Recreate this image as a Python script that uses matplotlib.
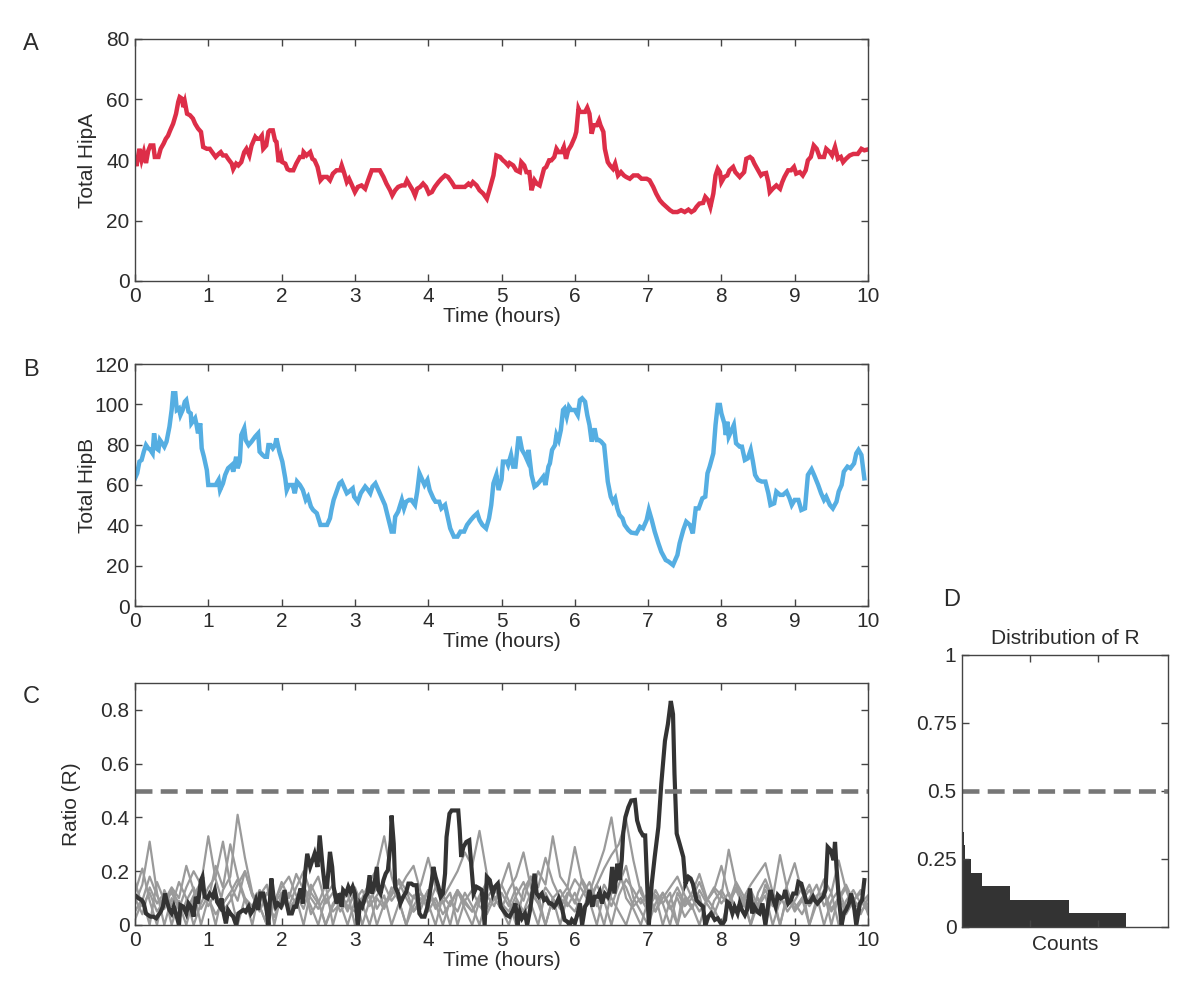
import matplotlib
matplotlib.use("Agg")
import matplotlib.pyplot as plt
import numpy as np

plt.rcParams['font.family'] = ['Liberation Sans', 'DejaVu Sans']

# ---------------- data ----------------
hipA_points = [
    (0.00,40.4),(0.02,38.0),(0.06,43.7),(0.09,40.0),(0.12,42.6),(0.15,39.0),(0.18,43.0),(0.21,44.8),(0.25,44.8),(0.27,41.0),
    (0.32,41.0),(0.35,43.7),(0.39,45.4),(0.42,47.0),(0.45,48.0),(0.48,49.8),(0.52,52.0),(0.56,55.3),(0.59,59.2),(0.61,60.8),
    (0.64,60.3),(0.66,57.5),(0.68,59.2),(0.71,55.3),(0.75,54.8),(0.79,53.7),(0.82,52.0),(0.86,50.4),(0.90,49.3),(0.93,44.3),
    (0.98,43.7),(1.02,43.7),(1.07,42.0),(1.10,41.0),(1.14,42.0),(1.17,42.6),(1.20,41.5),(1.24,41.5),(1.27,40.4),(1.32,38.8),
    (1.34,37.0),(1.38,38.8),(1.41,38.2),(1.45,39.3),(1.49,42.6),(1.52,43.7),(1.56,41.5),(1.59,44.8),(1.64,47.6),(1.66,47.0),
    (1.70,47.0),(1.73,48.0),(1.75,43.7),(1.79,44.8),(1.82,49.3),(1.84,49.8),(1.88,49.8),(1.91,46.5),(1.93,46.0),(1.96,39.3),
    (1.99,41.5),(2.01,39.3),(2.05,38.8),(2.08,37.0),(2.11,36.6),(2.16,36.6),(2.20,38.8),(2.25,41.0),(2.29,41.0),(2.30,42.6),
    (2.34,41.5),(2.39,42.6),(2.42,40.4),(2.45,39.9),(2.49,37.7),(2.53,33.3),(2.57,34.4),(2.62,34.4),(2.66,33.3),(2.70,35.5),
    (2.75,36.6),(2.80,36.6),(2.82,38.2),(2.85,36.0),(2.89,32.7),(2.92,33.8),(2.95,32.2),(3.00,29.4),(3.04,31.1),(3.09,31.6),
    (3.14,30.5),(3.18,33.3),(3.23,36.6),(3.27,36.6),(3.34,36.6),(3.39,34.4),(3.43,32.2),(3.48,30.0),(3.51,28.3),(3.55,30.0),
    (3.59,31.1),(3.64,31.6),(3.68,31.6),(3.71,33.3),(3.75,31.6),(3.79,30.0),(3.82,28.3),(3.85,30.5),(3.89,31.1),(3.93,32.2),
    (3.97,31.1),(4.01,28.9),(4.05,29.4),(4.09,31.1),(4.14,32.7),(4.18,33.8),(4.23,34.9),(4.27,34.4),(4.32,32.7),(4.36,31.1),
    (4.43,31.1),(4.50,31.1),(4.55,32.2),(4.58,31.6),(4.61,32.7),(4.66,31.6),(4.70,30.0),(4.75,28.9),(4.80,27.2),(4.84,30.5),
    (4.89,34.9),(4.93,41.5),(4.98,41.0),(5.02,39.9),(5.05,39.3),(5.09,38.2),(5.11,39.0),(5.16,38.2),(5.20,36.6),(5.25,36.0),
    (5.27,39.3),(5.31,38.2),(5.34,36.0),(5.38,36.0),(5.41,30.0),(5.45,33.3),(5.48,32.2),(5.52,31.6),(5.55,34.4),(5.58,37.1),
    (5.61,37.7),(5.65,39.9),(5.68,39.9),(5.72,41.0),(5.75,43.7),(5.78,42.6),(5.82,42.6),(5.85,44.3),(5.88,40.4),(5.91,43.2),
    (5.95,44.8),(5.98,46.5),(6.00,47.6),(6.02,49.3),(6.05,57.0),(6.07,55.9),(6.10,55.9),(6.14,55.9),(6.17,57.3),(6.20,55.3),
    (6.23,48.7),(6.26,51.5),(6.30,51.5),(6.33,53.1),(6.35,51.5),(6.39,49.3),(6.41,43.7),(6.45,39.3),(6.48,38.2),(6.52,37.1),
    (6.55,38.8),(6.59,34.9),(6.63,36.0),(6.67,34.9),(6.70,34.4),(6.75,33.8),(6.80,34.9),(6.86,34.9),(6.91,33.8),(6.98,33.8),
    (7.02,33.3),(7.07,31.1),(7.11,28.9),(7.16,26.7),(7.20,25.6),(7.25,24.5),(7.30,23.4),(7.34,22.8),(7.40,22.8),(7.45,23.4),
    (7.50,22.8),(7.55,23.6),(7.59,22.8),(7.63,23.4),(7.66,24.5),(7.70,25.6),(7.75,25.8),(7.78,27.8),(7.82,26.7),(7.85,24.5),
    (7.89,28.9),(7.92,34.9),(7.95,37.1),(7.98,36.0),(8.00,32.7),(8.04,34.4),(8.08,34.9),(8.11,36.6),(8.16,37.7),(8.19,36.0),
    (8.25,34.4),(8.31,36.0),(8.34,40.4),(8.39,41.0),(8.42,40.4),(8.45,38.8),(8.50,36.6),(8.54,34.9),(8.57,35.5),(8.61,35.7),
    (8.64,32.7),(8.66,29.4),(8.70,30.5),(8.75,31.6),(8.80,30.5),(8.83,32.7),(8.86,34.4),(8.91,36.6),(8.95,36.6),(8.99,37.7),
    (9.02,35.5),(9.07,36.0),(9.11,34.9),(9.15,36.6),(9.18,39.9),(9.22,41.0),(9.26,44.8),(9.30,43.7),(9.34,41.0),(9.40,41.0),
    (9.43,43.7),(9.48,42.6),(9.51,41.5),(9.55,44.3),(9.59,40.4),(9.63,41.0),(9.66,39.3),(9.70,40.4),(9.75,41.5),(9.80,42.0),
    (9.86,42.0),(9.91,43.7),(9.95,43.2),(10.00,43.5),
]

hipB_points = [
    (0.00,63.3),(0.03,65.8),(0.06,71.6),(0.09,72.4),(0.12,76.5),(0.15,79.8),(0.18,78.2),(0.21,77.4),(0.24,75.7),(0.26,85.6),
    (0.29,78.2),(0.32,77.4),(0.34,82.3),(0.37,80.7),(0.40,79.0),(0.43,81.5),(0.47,88.9),(0.50,97.2),(0.52,105.5),(0.55,105.5),
    (0.57,97.2),(0.60,98.0),(0.62,94.7),(0.65,97.2),(0.68,101.3),(0.70,102.1),(0.73,96.4),(0.76,95.5),(0.77,90.6),(0.82,93.1),
    (0.84,89.8),(0.86,85.6),(0.89,90.6),(0.91,78.2),(0.94,74.0),(0.98,67.4),(1.00,60.0),(1.05,60.0),(1.10,60.0),(1.14,62.5),
    (1.16,57.5),(1.20,60.8),(1.23,65.0),(1.27,68.3),(1.32,69.9),(1.34,66.6),(1.38,74.0),(1.40,68.3),(1.43,71.6),(1.45,84.8),
    (1.49,88.1),(1.51,82.3),(1.55,79.8),(1.59,81.5),(1.64,84.0),(1.68,85.6),(1.70,76.5),(1.74,74.9),(1.77,74.0),(1.80,74.0),
    (1.82,79.8),(1.85,79.8),(1.88,78.2),(1.91,79.8),(1.93,83.1),(1.97,76.5),(2.01,71.6),(2.05,63.3),(2.07,57.5),(2.10,60.0),
    (2.15,60.0),(2.18,55.9),(2.21,61.7),(2.25,60.0),(2.29,57.5),(2.33,52.6),(2.36,54.2),(2.40,49.3),(2.43,47.6),(2.48,46.0),
    (2.51,42.6),(2.53,40.2),(2.58,40.2),(2.62,40.2),(2.66,43.5),(2.68,47.6),(2.71,52.6),(2.75,56.7),(2.79,60.8),(2.82,61.7),
    (2.85,59.2),(2.89,55.9),(2.92,56.7),(2.97,58.3),(2.99,54.2),(3.04,51.7),(3.08,55.9),(3.14,59.2),(3.18,57.5),(3.21,55.9),
    (3.24,59.2),(3.28,60.8),(3.32,57.5),(3.36,54.2),(3.41,50.1),(3.45,44.3),(3.50,36.9),(3.53,36.9),(3.55,44.3),(3.59,46.8),
    (3.64,52.6),(3.67,48.4),(3.70,51.7),(3.74,52.6),(3.77,52.6),(3.82,50.1),(3.85,56.7),(3.88,65.8),(3.92,62.5),(3.95,60.0),
    (3.99,62.5),(4.02,57.5),(4.07,53.4),(4.10,51.7),(4.15,51.7),(4.18,48.4),(4.23,50.1),(4.26,45.1),(4.30,38.5),(4.35,34.4),
    (4.40,34.4),(4.44,36.9),(4.49,36.9),(4.53,40.2),(4.58,42.6),(4.62,44.3),(4.67,46.0),(4.70,42.6),(4.74,40.2),(4.79,38.5),
    (4.83,43.5),(4.86,50.1),(4.89,60.8),(4.93,65.0),(4.96,57.5),(5.00,62.5),(5.02,71.6),(5.07,71.6),(5.09,69.9),(5.13,74.9),
    (5.16,69.1),(5.19,69.1),(5.23,83.1),(5.25,83.1),(5.28,77.4),(5.32,74.9),(5.35,72.4),(5.37,77.4),(5.41,65.0),(5.45,59.2),
    (5.48,60.0),(5.52,61.7),(5.57,64.1),(5.60,60.0),(5.64,69.1),(5.66,70.7),(5.69,77.4),(5.73,79.8),(5.75,84.8),(5.78,82.3),
    (5.81,87.3),(5.84,97.2),(5.86,98.0),(5.89,93.9),(5.92,98.8),(5.95,97.2),(6.00,97.2),(6.04,94.7),(6.07,102.1),(6.10,103.0),
    (6.14,101.3),(6.17,94.7),(6.20,89.8),(6.23,81.5),(6.25,84.8),(6.27,88.1),(6.30,82.3),(6.33,82.3),(6.36,81.5),(6.40,79.8),
    (6.43,69.1),(6.45,61.7),(6.49,54.2),(6.52,51.7),(6.55,53.4),(6.58,48.4),(6.61,45.1),(6.65,43.5),(6.68,40.2),(6.73,37.7),
    (6.77,36.4),(6.84,36.0),(6.89,39.3),(6.93,38.5),(6.98,42.6),(7.01,47.6),(7.05,42.6),(7.09,36.9),(7.14,31.1),(7.18,26.9),
    (7.24,22.8),(7.28,22.0),(7.34,20.3),(7.40,25.3),(7.43,31.1),(7.48,37.7),(7.52,41.8),(7.57,40.2),(7.61,36.0),(7.65,48.4),
    (7.69,48.4),(7.74,53.4),(7.78,54.2),(7.81,65.8),(7.84,69.1),(7.89,75.7),(7.92,89.8),(7.95,99.7),(7.98,99.7),(8.00,95.5),
    (8.04,90.6),(8.06,84.8),(8.08,91.4),(8.10,84.0),(8.14,87.3),(8.17,89.8),(8.20,80.7),(8.25,79.0),(8.28,79.0),(8.32,72.4),
    (8.36,73.2),(8.40,77.4),(8.43,71.6),(8.46,65.0),(8.50,62.5),(8.55,61.7),(8.60,61.7),(8.64,55.9),(8.67,50.1),(8.72,50.9),
    (8.75,56.7),(8.80,55.1),(8.84,55.1),(8.89,56.7),(8.93,53.4),(8.96,50.1),(9.00,52.6),(9.05,52.6),(9.09,47.6),(9.14,48.4),
    (9.18,65.0),(9.23,67.8),(9.27,64.5),(9.32,60.0),(9.36,55.9),(9.40,52.6),(9.43,54.2),(9.48,50.1),(9.52,48.4),(9.57,51.7),
    (9.60,56.7),(9.64,60.0),(9.67,66.6),(9.72,69.1),(9.76,68.3),(9.81,70.7),(9.84,75.7),(9.87,77.4),(9.91,74.9),(9.95,63.3),
]

ratio_points = [
    (0.00,0.111),(0.05,0.099),(0.09,0.093),(0.12,0.080),(0.15,0.043),(0.18,0.037),(0.21,0.031),(0.25,0.031),(0.29,0.025),(0.32,0.037),
    (0.35,0.049),(0.38,0.068),(0.41,0.117),(0.43,0.093),(0.47,0.056),(0.50,0.043),(0.53,0.068),(0.57,0.031),(0.60,0.000),(0.62,0.074),
    (0.66,0.068),(0.70,0.043),(0.73,0.080),(0.76,0.068),(0.80,0.031),(0.83,0.105),(0.86,0.080),(0.90,0.167),(0.92,0.179),(0.95,0.105),
    (0.99,0.099),(1.02,0.117),(1.06,0.105),(1.09,0.130),(1.12,0.086),(1.16,0.068),(1.18,0.099),(1.21,0.043),(1.24,0.006),(1.27,0.056),
    (1.30,0.043),(1.34,0.031),(1.38,0.000),(1.41,0.043),(1.44,0.049),(1.48,0.056),(1.51,0.049),(1.55,0.068),(1.58,0.043),(1.61,0.056),
    (1.65,0.093),(1.68,0.056),(1.71,0.117),(1.75,0.117),(1.79,0.068),(1.82,0.000),(1.86,0.173),(1.89,0.105),(1.92,0.068),(1.95,0.080),
    (1.99,0.068),(2.01,0.080),(2.04,0.130),(2.07,0.080),(2.10,0.043),(2.14,0.043),(2.17,0.068),(2.20,0.068),(2.23,0.105),(2.26,0.136),
    (2.29,0.080),(2.32,0.191),(2.35,0.265),(2.39,0.216),(2.42,0.241),(2.45,0.265),(2.49,0.216),(2.52,0.333),(2.56,0.216),(2.59,0.142),
    (2.62,0.142),(2.66,0.272),(2.69,0.216),(2.71,0.142),(2.75,0.080),(2.79,0.117),(2.82,0.068),(2.84,0.130),(2.88,0.117),(2.91,0.142),
    (2.94,0.123),(2.97,0.142),(3.00,0.117),(3.04,0.000),(3.07,0.080),(3.10,0.068),(3.14,0.105),(3.17,0.117),(3.20,0.185),(3.23,0.117),
    (3.26,0.142),(3.30,0.216),(3.32,0.130),(3.35,0.117),(3.39,0.167),(3.42,0.191),(3.45,0.204),(3.49,0.315),(3.50,0.407),(3.53,0.302),
    (3.55,0.142),(3.59,0.117),(3.62,0.080),(3.66,0.105),(3.70,0.123),(3.73,0.154),(3.77,0.154),(3.80,0.148),(3.84,0.148),(3.88,0.043),
    (3.91,0.031),(3.95,0.031),(3.99,0.068),(4.02,0.117),(4.05,0.167),(4.07,0.216),(4.10,0.179),(4.14,0.142),(4.17,0.105),(4.20,0.117),
    (4.23,0.191),(4.25,0.327),(4.29,0.414),(4.32,0.426),(4.36,0.426),(4.41,0.426),(4.43,0.352),(4.45,0.253),(4.48,0.290),(4.52,0.309),
    (4.56,0.315),(4.59,0.216),(4.62,0.117),(4.66,0.142),(4.70,0.136),(4.73,0.130),(4.77,0.000),(4.80,0.179),(4.84,0.167),(4.88,0.117),
    (4.91,0.142),(4.95,0.154),(4.99,0.068),(5.02,0.056),(5.07,0.037),(5.11,0.031),(5.16,0.056),(5.19,0.080),(5.22,0.000),(5.25,0.049),
    (5.28,0.025),(5.32,0.043),(5.35,0.000),(5.39,0.056),(5.42,0.117),(5.45,0.191),(5.48,0.117),(5.51,0.105),(5.55,0.117),(5.58,0.093),
    (5.61,0.099),(5.65,0.080),(5.68,0.080),(5.72,0.068),(5.75,0.080),(5.78,0.099),(5.82,0.068),(5.86,0.019),(5.90,0.012),(5.93,0.000),
    (5.96,0.019),(6.00,0.006),(6.04,0.043),(6.07,0.080),(6.10,0.000),(6.14,0.068),(6.17,0.080),(6.20,0.130),(6.24,0.068),(6.27,0.105),
    (6.31,0.105),(6.34,0.123),(6.37,0.080),(6.41,0.117),(6.45,0.105),(6.48,0.130),(6.51,0.216),(6.54,0.117),(6.58,0.228),(6.61,0.167),
    (6.64,0.241),(6.66,0.340),(6.69,0.401),(6.73,0.438),(6.77,0.463),(6.82,0.465),(6.85,0.389),(6.89,0.352),(6.93,0.333),(6.96,0.333),
    (7.01,0.000),(7.05,0.154),(7.09,0.253),(7.14,0.364),(7.18,0.525),(7.23,0.685),(7.27,0.747),(7.31,0.833),(7.34,0.784),(7.36,0.562),
    (7.39,0.340),(7.43,0.302),(7.48,0.253),(7.51,0.154),(7.55,0.179),(7.58,0.173),(7.61,0.154),(7.66,0.093),(7.70,0.080),(7.75,0.068),
    (7.78,0.000),(7.82,0.031),(7.86,0.043),(7.91,0.019),(7.95,0.025),(7.98,0.012),(8.01,0.000),(8.05,0.019),(8.08,0.086),(8.11,0.080),
    (8.15,0.043),(8.18,0.068),(8.22,0.043),(8.25,0.080),(8.28,0.056),(8.32,0.037),(8.35,0.056),(8.39,0.136),(8.42,0.043),(8.45,0.068),
    (8.49,0.049),(8.52,0.043),(8.56,0.080),(8.60,0.000),(8.64,0.080),(8.67,0.130),(8.70,0.099),(8.74,0.068),(8.77,0.111),(8.81,0.099),
    (8.85,0.105),(8.87,0.130),(8.91,0.080),(8.95,0.093),(8.98,0.117),(9.02,0.117),(9.05,0.160),(9.09,0.154),(9.14,0.105),(9.16,0.086),
    (9.21,0.086),(9.25,0.105),(9.27,0.093),(9.31,0.080),(9.35,0.093),(9.39,0.105),(9.42,0.130),(9.45,0.290),(9.49,0.278),(9.53,0.241),
    (9.55,0.309),(9.57,0.216),(9.60,0.105),(9.64,0.000),(9.67,0.043),(9.70,0.056),(9.74,0.080),(9.77,0.117),(9.81,0.068),(9.84,0.000),
    (9.89,0.080),(9.92,0.093),(9.95,0.167),
]

# other cells' ratio traces (grey), sampled every 0.1 h from 0 to 10 h
grey_times = [round(0.1 * i, 1) for i in range(101)]
grey_1 = [0.08,0.15,0.31,0.12,0.00,0.10,0.02,0.09,0.14,0.06,
          0.11,0.00,0.13,0.18,0.41,0.25,0.12,0.07,0.00,0.10,
          0.06,0.12,0.08,0.15,0.04,0.09,0.00,0.07,0.11,0.05,
          0.13,0.08,0.00,0.10,0.06,0.14,0.09,0.00,0.07,0.12,
          0.05,0.10,0.04,0.08,0.13,0.06,0.00,0.09,0.11,0.07,
          0.15,0.23,0.10,0.05,0.08,0.00,0.12,0.06,0.10,0.14,
          0.08,0.17,0.12,0.20,0.28,0.40,0.22,0.10,0.06,0.00,
          0.09,0.05,0.12,0.07,0.00,0.10,0.06,0.13,0.08,0.04,
          0.11,0.07,0.14,0.09,0.00,0.12,0.17,0.10,0.26,0.13,
          0.06,0.10,0.00,0.08,0.12,0.05,0.09,0.14,0.07,0.04,
          0.10]
grey_2 = [0.12,0.21,0.09,0.00,0.13,0.07,0.16,0.10,0.00,0.08,
          0.14,0.18,0.31,0.15,0.09,0.20,0.11,0.05,0.12,0.08,
          0.16,0.10,0.19,0.13,0.07,0.00,0.10,0.05,0.08,0.12,
          0.00,0.09,0.15,0.06,0.11,0.00,0.08,0.13,0.05,0.10,
          0.07,0.14,0.09,0.00,0.12,0.08,0.05,0.11,0.16,0.10,
          0.06,0.13,0.18,0.27,0.14,0.08,0.00,0.10,0.06,0.12,
          0.09,0.04,0.13,0.07,0.15,0.10,0.05,0.00,0.09,0.14,
          0.06,0.11,0.08,0.00,0.12,0.07,0.10,0.16,0.09,0.13,
          0.22,0.11,0.06,0.10,0.00,0.08,0.13,0.07,0.11,0.05,
          0.09,0.14,0.00,0.10,0.17,0.12,0.24,0.13,0.06,0.09,
          0.05]
grey_3 = [0.05,0.10,0.00,0.16,0.09,0.12,0.06,0.14,0.20,0.15,
          0.33,0.17,0.08,0.12,0.00,0.10,0.07,0.13,0.04,0.09,
          0.14,0.18,0.11,0.06,0.15,0.09,0.00,0.08,0.12,0.07,
          0.05,0.10,0.16,0.21,0.33,0.18,0.09,0.00,0.11,0.06,
          0.13,0.08,0.00,0.09,0.05,0.12,0.07,0.00,0.10,0.14,
          0.08,0.05,0.11,0.16,0.09,0.20,0.15,0.33,0.18,0.14,
          0.29,0.16,0.09,0.00,0.12,0.07,0.15,0.22,0.10,0.05,
          0.00,0.08,0.12,0.06,0.10,0.03,0.07,0.11,0.00,0.09,
          0.13,0.08,0.16,0.11,0.06,0.10,0.00,0.12,0.08,0.15,
          0.23,0.12,0.07,0.11,0.00,0.09,0.13,0.06,0.10,0.05,
          0.08]
grey_4 = [0.10,0.04,0.14,0.08,0.12,0.00,0.09,0.05,0.11,0.16,
          0.09,0.22,0.14,0.30,0.18,0.10,0.00,0.13,0.08,0.03,
          0.10,0.07,0.14,0.20,0.12,0.08,0.15,0.00,0.10,0.06,
          0.12,0.00,0.09,0.14,0.07,0.11,0.16,0.10,0.05,0.08,
          0.13,0.06,0.10,0.15,0.20,0.27,0.22,0.35,0.19,0.10,
          0.06,0.00,0.09,0.05,0.12,0.08,0.14,0.10,0.00,0.11,
          0.17,0.13,0.08,0.15,0.21,0.26,0.30,0.39,0.24,0.12,
          0.07,0.11,0.00,0.09,0.14,0.08,0.12,0.19,0.10,0.06,
          0.00,0.09,0.13,0.07,0.11,0.05,0.15,0.09,0.00,0.12,
          0.08,0.04,0.10,0.15,0.07,0.12,0.00,0.09,0.13,0.08,
          0.11]
grey_5 = [0.16,0.07,0.12,0.05,0.09,0.14,0.10,0.22,0.13,0.00,
          0.10,0.04,0.08,0.12,0.17,0.09,0.05,0.11,0.15,0.00,
          0.12,0.06,0.10,0.00,0.13,0.18,0.08,0.12,0.05,0.09,
          0.14,0.07,0.11,0.00,0.08,0.12,0.17,0.13,0.10,0.15,
          0.25,0.14,0.08,0.12,0.00,0.09,0.13,0.07,0.04,0.10,
          0.12,0.07,0.14,0.09,0.18,0.11,0.00,0.10,0.13,0.08,
          0.05,0.11,0.16,0.09,0.00,0.12,0.18,0.14,0.07,0.10,
          0.05,0.13,0.08,0.12,0.00,0.16,0.10,0.05,0.09,0.14,
          0.11,0.28,0.15,0.09,0.13,0.07,0.11,0.00,0.09,0.12,
          0.06,0.10,0.15,0.08,0.13,0.00,0.11,0.04,0.09,0.12,
          0.06]
grey_6 = [0.02,0.09,0.18,0.11,0.06,0.13,0.08,0.00,0.10,0.14,
          0.07,0.12,0.05,0.09,0.15,0.20,0.11,0.07,0.00,0.08,
          0.12,0.05,0.09,0.14,0.10,0.06,0.11,0.15,0.08,0.00,
          0.09,0.13,0.07,0.11,0.15,0.09,0.13,0.18,0.22,0.12,
          0.08,0.00,0.11,0.07,0.13,0.09,0.05,0.10,0.06,0.12,
          0.15,0.09,0.00,0.13,0.18,0.14,0.25,0.16,0.10,0.07,
          0.12,0.06,0.10,0.15,0.09,0.00,0.11,0.17,0.13,0.08,
          0.12,0.05,0.10,0.14,0.18,0.11,0.07,0.00,0.09,0.13,
          0.08,0.12,0.06,0.10,0.15,0.19,0.23,0.12,0.00,0.11,
          0.05,0.09,0.13,0.08,0.12,0.06,0.10,0.15,0.09,0.13,
          0.04]
grey_series = [grey_1, grey_2, grey_3, grey_4, grey_5, grey_6]

threshold = 0.5

# distribution of R (bins of 0.05, counts in arbitrary units)
hist_bin_lefts = [0.00,0.05,0.10,0.15,0.20,0.25,0.30,0.35,0.40,0.45,0.50,0.55,0.60,0.65,0.70,0.75,0.80]
hist_counts    = [2.41,1.57,0.71,0.29,0.13,0.05,0.03,0.015,0.008,0.006,0.005,0.004,0.004,0.003,0.003,0.003,0.002]

x_ticks = [0,1,2,3,4,5,6,7,8,9,10]
a_ticks = [0,20,40,60,80]
b_ticks = [0,20,40,60,80,100,120]
c_ticks = [0,0.2,0.4,0.6,0.8]
c_ticklabels = ['0','0.2','0.4','0.6','0.8']
d_ticks = [0,0.25,0.5,0.75,1]
d_ticklabels = ['0','0.25','0.5','0.75','1']

# ---------------- styling ----------------
RED = '#DD2E48'
BLUE = '#55AEE2'
DARK = '#333333'
GREY = '#9A9A9A'
DASH = '#777777'
TXT = '#2b2b2b'
FS = 15

fig = plt.figure(figsize=(12, 9.92), dpi=100)
W, H = 1200, 992

def add_axes(l, t, r, b):
    return fig.add_axes([l / W, 1 - b / H, (r - l) / W, (b - t) / H])

def style(ax):
    for s in ax.spines.values():
        s.set_color('#444444')
        s.set_linewidth(1.0)
    ax.tick_params(direction='in', top=True, right=True, length=5, width=1.0,
                   colors='#444444', labelcolor=TXT, labelsize=FS, pad=4)

axA = add_axes(135, 39, 868, 281)
axB = add_axes(135, 364, 868, 606)
axC = add_axes(135, 683, 868, 925)
axD = add_axes(962, 655, 1168, 927)

tA, vA = zip(*hipA_points)
axA.plot(tA, vA, color=RED, lw=3.2, solid_joinstyle='miter')
axA.set_xlim(0, 10); axA.set_ylim(0, 80)
axA.set_yticks(a_ticks); axA.set_xticks(x_ticks)
axA.set_ylabel('Total HipA', fontsize=FS, color=TXT, labelpad=6.5)
axA.set_xlabel('Time (hours)', fontsize=FS, color=TXT, labelpad=1)
style(axA)

tB, vB = zip(*hipB_points)
axB.plot(tB, vB, color=BLUE, lw=3.2, solid_joinstyle='miter')
axB.set_xlim(0, 10); axB.set_ylim(0, 120)
axB.set_yticks(b_ticks); axB.set_xticks(x_ticks)
axB.set_ylabel('Total HipB', fontsize=FS, color=TXT, labelpad=-2)
axB.set_xlabel('Time (hours)', fontsize=FS, color=TXT, labelpad=1)
style(axB)

for g in grey_series:
    axC.plot(grey_times, g, color=GREY, lw=1.6)
tC, vC = zip(*ratio_points)
axC.plot(tC, vC, color=DARK, lw=3.0, solid_joinstyle='miter')
axC.axhline(threshold, color=DASH, lw=3.3, dashes=(3.7, 1.8))
axC.set_xlim(0, 10); axC.set_ylim(0, 0.9)
axC.set_yticks(c_ticks); axC.set_yticklabels(c_ticklabels)
axC.set_xticks(x_ticks)
axC.set_ylabel('Ratio (R)', fontsize=FS, color=TXT, labelpad=14)
axC.set_xlabel('Time (hours)', fontsize=FS, color=TXT, labelpad=1)
style(axC)

axD.barh(hist_bin_lefts, hist_counts, height=0.05, align='edge', color=DARK, linewidth=0)
axD.axhline(threshold, color=DASH, lw=3.3, dashes=(3.7, 1.8))
axD.set_xlim(0, 3.03); axD.set_ylim(0, 1)
axD.set_xticks([1, 2]); axD.set_xticklabels([])
axD.set_yticks(d_ticks); axD.set_yticklabels(d_ticklabels)
axD.set_title('Distribution of R', fontsize=FS, color=TXT, pad=8)
axD.set_xlabel('Counts', fontsize=FS, color=TXT, labelpad=2)
style(axD)

for lab, x, y in [('A', 23, 44), ('B', 23, 370), ('C', 23, 697), ('D', 943, 600)]:
    fig.text(x / W, 1 - y / H, lab, fontsize=17, color=TXT, va='center', ha='left')

fig.savefig('out.png', dpi=100)
